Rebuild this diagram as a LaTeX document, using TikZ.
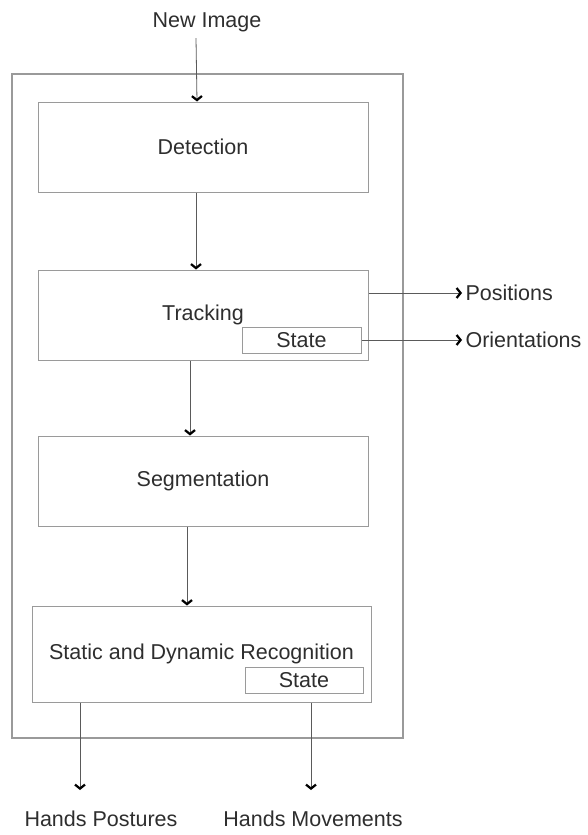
\documentclass[tikz,border=0pt]{standalone}
\usepackage{fontspec}
\setmainfont{Liberation Sans}
\usetikzlibrary{arrows.meta,positioning}
\definecolor{boxGray}{HTML}{9A9A9A}
\definecolor{lineGray}{HTML}{5A5A5A}
\definecolor{inkGray}{HTML}{2E2E2E}

\begin{document}
\begin{tikzpicture}[
  x=1pt, y=-1pt,
  >={Straight Barb[length=4pt,width=10pt,line width=2.2pt,color=black]},
  node distance=77pt,
  font=\fontsize{21.5}{25}\selectfont,
  text=inkGray,
  stagebox/.style={
    draw=boxGray,
    line width=1pt,
    minimum width=330pt,
    minimum height=90pt,
    inner sep=0pt
  },
  statebox/.style={
    draw=boxGray,
    line width=1pt,
    minimum width=119pt,
    minimum height=26pt,
    inner sep=0pt,
    anchor=south east
  },
  flow/.style={->,draw=lineGray,line width=0.8pt},
  frame/.style={
    draw=boxGray,
    line width=1.4pt,
    minimum width=391pt,
    minimum height=664pt
  }
]
  \useasboundingbox (0,0) rectangle (588,835);

  % the system around the four stages
  \node[frame] (system) at (207.5,406) {};

  \node[stagebox] (detect) at (203,147) {Detection};
  \node[stagebox,below=of detect] (track) {Tracking};
  \node[stagebox,below=75pt of track] (segment) {Segmentation};
  \node[stagebox,below=79pt of segment,xshift=-1.5pt,
    minimum width=339pt,minimum height=96pt] (recog)
    {Static and Dynamic Recognition};

  \node[statebox] (trackstate)
    at ([xshift=-7pt,yshift=7pt]track.south east) {State};
  \node[statebox,minimum width=118pt] (recogstate)
    at ([xshift=-8pt,yshift=9pt]recog.south east) {State};

  % input and outputs
  \node (newimg) at (207,22) {New Image};
  \node[anchor=west] (positions) at (462,293) {Positions};
  \node[anchor=west] (orients) at (462,340) {Orientations};
  \node (postures) at (101,819) {Hands Postures};
  \node (movements) at (313,819) {Hands Movements};
  \coordinate (posturesin) at (80,790);
  \coordinate (movementsin) at (311,790);

  \draw[flow] ([xshift=-11pt,yshift=-3pt]newimg.south)
    -- ([xshift=-6pt]detect.north);
  \draw[flow] ([xshift=-7pt]detect.south) -- ([xshift=-7pt]track.north);
  \draw[flow] ([xshift=-13pt]track.south) -- ([xshift=-13pt]segment.north);
  \draw[flow] ([xshift=-16pt]segment.south)
    -- ([xshift=-14.5pt]recog.north);
  \draw[flow] (track.east |- positions) -- (positions.west);
  \draw[flow] (trackstate.east |- orients) -- (orients.west);
  \draw[flow] (recog.south -| posturesin) -- (posturesin);
  \draw[flow] (recog.south -| movementsin) -- (movementsin);
\end{tikzpicture}
\end{document}
